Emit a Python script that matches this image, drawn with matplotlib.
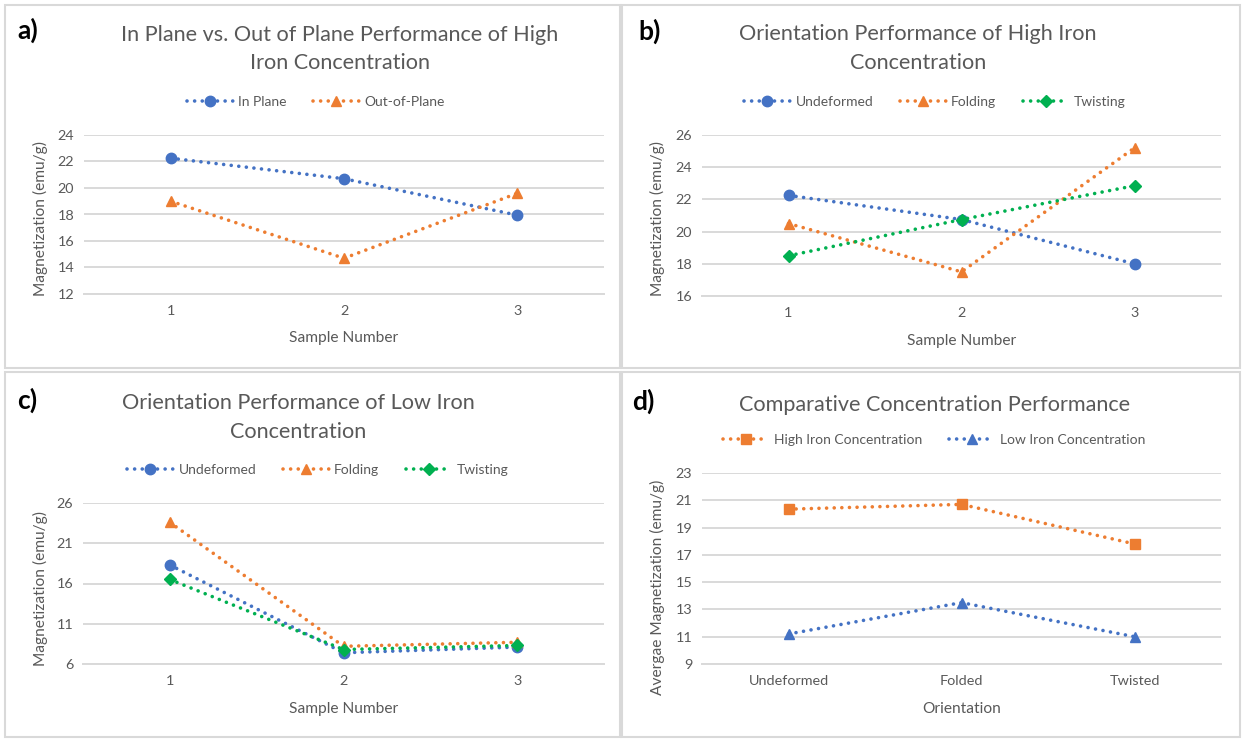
import matplotlib
matplotlib.use('Agg')
import matplotlib.pyplot as plt
from matplotlib.patches import Rectangle
from matplotlib.lines import Line2D

# ---------------- data ----------------
samples = ['1', '2', '3']

a_in_plane = [22.25, 20.7, 17.95]
a_out_plane = [19.0, 14.7, 19.6]

b_undeformed = [22.25, 20.75, 18.0]
b_folding = [20.5, 17.5, 25.2]
b_twisting = [18.5, 20.75, 22.85]

c_undeformed = [18.3, 7.4, 8.1]
c_folding = [23.6, 8.2, 8.7]
c_twisting = [16.5, 7.8, 8.3]

orientations = ['Undeformed', 'Folded', 'Twisted']
d_high = [20.35, 20.7, 17.8]
d_low = [11.2, 13.5, 11.0]

a_yticks = [12, 14, 16, 18, 20, 22, 24]
b_yticks = [16, 18, 20, 22, 24, 26]
c_yticks = [6, 11, 16, 21, 26]
d_yticks = [9, 11, 13, 15, 17, 19, 21, 23]

# ---------------- style ----------------
W, H = 1242, 740
BLUE = '#4472C4'
ORANGE = '#ED7D31'
GREEN = '#00B050'
TXT = '#595959'
GRID = '#D9D9D9'
FONT = ['Lato', 'DejaVu Sans']
plt.rcParams['font.family'] = FONT

fig = plt.figure(figsize=(W / 100, H / 100), dpi=100)
fig.patch.set_facecolor('white')

LS = (0, (0.01, 2.1))
LW = 2.6


def fx(x):
    return x / W


def fy(y):
    return 1 - y / H


def ax_px(x0, y0, x1, y1):
    return fig.add_axes([x0 / W, 1 - y1 / H, (x1 - x0) / W, (y1 - y0) / H])


def style(ax, yticks):
    ax.set_ylim(yticks[0], yticks[-1])
    ax.set_yticks(yticks)
    ax.set_xlim(-0.5, 2.5)
    ax.grid(axis='y', color=GRID, lw=1.4)
    ax.set_axisbelow(True)
    for s in ['top', 'right', 'left']:
        ax.spines[s].set_visible(False)
    ax.spines['bottom'].set_color(GRID)
    ax.spines['bottom'].set_linewidth(1.4)
    ax.tick_params(axis='both', length=0, colors=TXT, labelsize=10.4)
    ax.tick_params(axis='x', pad=8)
    ax.tick_params(axis='y', pad=7)


def series(ax, x, y, color, marker, ms):
    ax.plot(x, y, color=color, lw=LW, ls=LS, dash_capstyle='round',
            marker=marker, ms=ms, mfc=color, mec=color, zorder=3)
    return Line2D([], [], color=color, lw=LW, ls=LS, dash_capstyle='round',
                  marker=marker, ms=ms, mfc=color, mec=color)


def legend(handles, labels, cx, cy):
    fig.legend(handles, labels, loc='center', bbox_to_anchor=(fx(cx), fy(cy)),
               ncol=len(labels), frameon=False, handlelength=3.3,
               columnspacing=1.9, handletextpad=0.4, fontsize=10,
               labelcolor=TXT, borderaxespad=0)


def title(lines, cx, ys):
    for t, y in zip(lines, ys):
        fig.text(fx(cx), fy(y), t, ha='center', va='center', fontsize=15.6,
                 color=TXT)


def ylabel(t, x, y):
    fig.text(fx(x), fy(y), t, rotation=90, ha='center', va='center',
             fontsize=11.2, color=TXT)


def xlabel(t, x, y):
    fig.text(fx(x), fy(y), t, ha='center', va='center', fontsize=11.2,
             color=TXT)


def panel_label(t, x, y):
    fig.text(fx(x), fy(y), t, ha='left', va='center', fontsize=19,
             fontweight='bold', color='black')


# panel borders
for (x0, y0, x1, y1) in [(5, 5, 620, 368), (622, 5, 1240, 368),
                         (5, 372, 620, 737), (622, 372, 1240, 737)]:
    fig.patches.append(Rectangle((fx(x0), fy(y1)), (x1 - x0) / W, (y1 - y0) / H,
                                 transform=fig.transFigure, fill=False,
                                 edgecolor=GRID, lw=1.5))

# ---------------- a) ----------------
ax = ax_px(84, 135, 604, 294)
style(ax, a_yticks)
h1 = series(ax, samples, a_in_plane, BLUE, 'o', 7.5)
h2 = series(ax, samples, a_out_plane, ORANGE, '^', 7.5)
legend([h1, h2], ['In Plane', 'Out-of-Plane'], 316, 102)
title(['In Plane vs. Out of Plane Performance of High', 'Iron Concentration'],
      340, [35, 63])
ylabel('Magnetization (emu/g)', 40, 219)
xlabel('Sample Number', 344, 338)
panel_label('a)', 17, 30)

# ---------------- b) ----------------
ax = ax_px(702, 135, 1221, 296)
style(ax, b_yticks)
h1 = series(ax, samples, b_undeformed, BLUE, 'o', 7.5)
h2 = series(ax, samples, b_folding, ORANGE, '^', 7.5)
h3 = series(ax, samples, b_twisting, GREEN, 'D', 6.5)
legend([h1, h2, h3], ['Undeformed', 'Folding', 'Twisting'], 935, 102)
title(['Orientation Performance of High Iron', 'Concentration'], 918, [34, 63])
ylabel('Magnetization (emu/g)', 657, 219)
xlabel('Sample Number', 962, 341)
panel_label('b)', 638, 31)

# ---------------- c) ----------------
ax = ax_px(83, 503, 604, 664)
style(ax, c_yticks)
h1 = series(ax, samples, c_undeformed, BLUE, 'o', 7.5)
h2 = series(ax, samples, c_folding, ORANGE, '^', 7.5)
h3 = series(ax, samples, c_twisting, GREEN, 'D', 6.5)
legend([h1, h2, h3], ['Undeformed', 'Folding', 'Twisting'], 318, 470)
title(['Orientation Performance of Low Iron', 'Concentration'], 298, [403, 432])
ylabel('Magnetization (emu/g)', 40, 589)
xlabel('Sample Number', 344, 709)
panel_label('c)', 17, 400)

# ---------------- d) ----------------
ax = ax_px(702, 473, 1221, 664)
style(ax, d_yticks)
h1 = series(ax, orientations, d_high, ORANGE, 's', 7)
h2 = series(ax, orientations, d_low, BLUE, '^', 7.5)
legend([h1, h2], ['High Iron Concentration', 'Low Iron Concentration'], 934, 440)
title(['Comparative Concentration Performance'], 935, [405])
ylabel('Avergae Magnetization (emu/g)', 657, 587)
xlabel('Orientation', 962, 709)
panel_label('d)', 632, 401)

fig.savefig('out.png', dpi=100, facecolor='white')
